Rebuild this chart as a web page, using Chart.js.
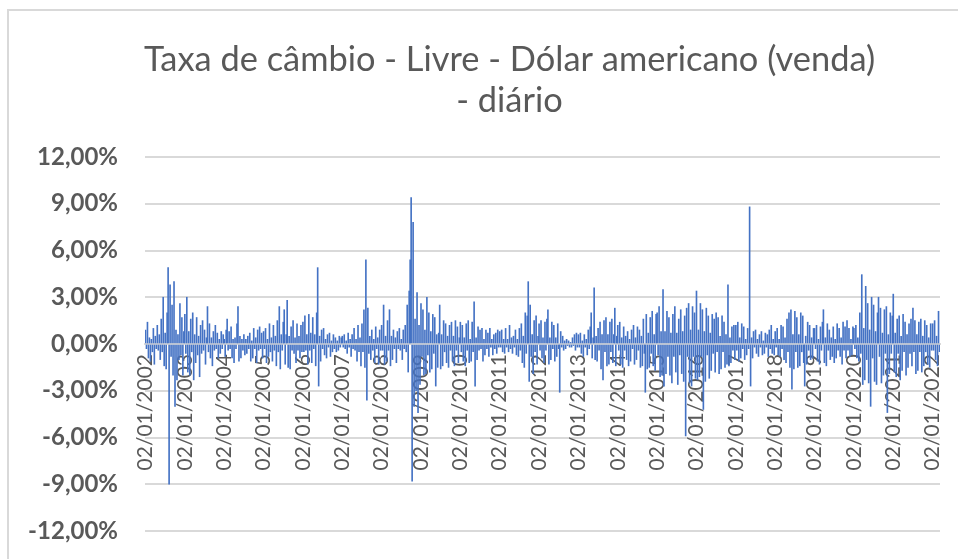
<!DOCTYPE html>
<html>
<head>
<meta charset="utf-8">
<script src="https://cdn.jsdelivr.net/npm/chart.js@4.4.1/dist/chart.umd.min.js"></script>
<style>
  html, body { margin: 0; padding: 0; background: #ffffff; overflow: hidden; width: 958px; height: 559px; }
  #frame { position: absolute; left: 7px; top: 9px; width: 1100px; height: 700px; border: 2px solid #D9D9D9; box-sizing: border-box; }
  #c { position: absolute; left: 0; top: 0; }
</style>
</head>
<body>
<div id="frame"></div>
<canvas id="c" width="1019" height="559"></canvas>
<script>
// Title
const titleLines = ['Taxa de câmbio - Livre - Dólar americano (venda)', '- diário'];

// Year tick labels (one per year start)
const tickLabels = ['02/01/2002','02/01/2003','02/01/2004','02/01/2005','02/01/2006','02/01/2007',
  '02/01/2008','02/01/2009','02/01/2010','02/01/2011','02/01/2012','02/01/2013','02/01/2014',
  '02/01/2015','02/01/2016','02/01/2017','02/01/2018','02/01/2019','02/01/2020','02/01/2021','02/01/2022'];

const v2002 = [0.9,-0.3,1.4,-0.9,0.4,-1.1,0.3,-0.5,1.0,-1.3, 0.5,-0.3,1.2,-0.4,0.6,-1.0,1.6,-0.5,3.0,-1.4, 0.7,-1.6,2.0,4.9,-9.0,3.8,-0.8,2.5,-2.0,4.0, -4.0,0.9,-2.3,0.6,-1.0,2.6,-0.7,1.7,-2.0,0.8];
const v2003 = [1.9,-0.6,3.0,-1.8,0.8,-2.0,1.6,-0.5,2.0,-2.3, 0.6,-1.2,1.7,-0.7,0.5,-2.1,1.2,-0.6,1.5,-0.4, 0.9,-1.3,0.4,2.4,-0.5,1.3,-0.9,0.4,-1.4,0.8, -0.4,1.2,-0.3,0.7,-0.9,0.3,-0.6,0.8,-0.3,0.6];
const v2004 = [0.3,-0.8,0.9,1.6,-0.4,0.8,-0.3,1.1,-0.9,0.3, -1.2,0.4,-0.3,1.3,2.4,-1.1,0.5,-0.9,0.3,-0.4, 0.6,-0.7,0.3,-0.6,0.5,-0.3,0.7,-1.1,0.2,-0.9, 1.0,-0.3,0.4,-1.2,0.9,-0.4,1.1,-0.3,0.7,-0.9];
const v2005 = [0.8,-0.3,1.0,-1.2,0.3,-0.8,1.3,-0.5,0.4,-1.1, 1.2,-0.4,0.5,-1.4,1.5,-0.5,2.4,-1.6,0.6,-0.4, 1.4,2.2,-1.3,0.6,2.8,-1.5,0.5,-1.6,1.1,-0.4, 1.5,-0.6,0.4,-1.2,1.3,-0.4,0.5,-0.9,1.2,-0.5];
const v2006 = [1.4,-0.5,1.8,-0.4,0.6,-1.3,1.9,-0.4,0.7,-1.2, 1.7,-0.3,0.6,-1.4,2.0,4.9,-2.7,0.5,-1.1,0.9, -0.3,1.0,-0.7,0.3,-0.9,0.6,-0.2,0.7,-0.8,0.2, -0.5,0.6,-0.3,0.4,-0.5,0.2,-0.4,0.5,-0.2,0.4];
const v2007 = [0.5,-0.2,0.6,-0.3,0.2,-0.6,0.7,-0.2,0.3,-0.8, 0.6,-0.3,1.0,-0.4,0.3,-1.1,1.2,-0.5,0.4,-1.4, 1.3,-0.5,2.2,-1.5,5.4,-3.6,2.3,-0.6,0.5,-1.0, 0.9,-0.4,0.3,-1.2,1.1,-0.3,0.4,-1.3,0.9,-0.4];
const v2008 = [1.2,-0.4,2.5,-1.3,0.5,-1.1,1.5,-0.4,2.2,-1.4, 0.5,-1.0,0.9,-0.3,0.4,-1.2,0.8,-0.3,1.0,-0.4, 0.3,-1.0,0.9,-0.3,1.2,-0.5,2.5,-1.8,3.4,5.4, 9.4,-8.8,7.8,-4.0,1.6,-3.0,3.3,-4.4,1.2,-2.6];
const v2009 = [2.6,-0.8,2.2,-2.0,0.9,-1.9,3.0,-0.7,2.0,-1.8, 0.8,-1.6,1.9,-0.6,1.7,-2.7,0.6,-1.5,0.7,2.5, -1.6,0.6,-1.4,1.5,-0.5,1.3,-1.2,0.5,-1.5,1.2, -0.4,1.4,-1.1,0.5,-1.4,1.5,-0.4,1.1,-1.2,0.4];
const v2010 = [1.4,-0.5,1.2,-1.1,0.4,-1.4,1.3,-0.4,1.5,-1.2, 0.3,-1.1,1.4,-0.5,2.7,-2.7,0.4,-1.0,1.1,-0.4, 0.9,-0.3,1.0,-1.1,0.3,-0.7,0.9,-0.3,0.7,-0.8, 1.0,-0.2,0.3,-0.7,0.6,-0.3,0.7,-0.6,0.9,-0.2];
const v2011 = [0.8,-0.2,0.9,-0.5,0.3,-0.6,1.0,-0.2,0.3,-0.5, 1.2,-0.3,0.4,-0.6,0.5,-0.2,0.9,-0.7,0.3,-0.8, 1.0,-0.4,1.3,-1.2,0.5,-1.5,2.0,-0.6,1.8,4.0, -2.4,2.5,-0.8,0.6,-1.9,1.5,-0.5,1.8,-1.3,0.5];
const v2012 = [1.3,-0.4,1.5,-0.9,0.4,-1.2,1.4,-0.4,1.6,2.2, -1.3,0.4,-1.0,1.4,-0.3,1.2,-1.1,0.4,-0.8,1.3, -0.3,-3.1,0.8,-0.2,0.5,-0.4,0.2,-0.3,0.3,-0.1, 0.2,-0.2,0.1,-0.2,0.4,-0.1,0.6,-0.4,0.7,-0.2];
const v2013 = [0.6,-0.2,0.7,-0.6,0.2,-0.8,0.6,-0.2,0.3,-0.7, 0.9,-0.3,1.1,2.0,-0.9,0.4,3.6,-1.0,0.5,-1.1, 1.0,-0.4,1.4,-1.6,0.6,-2.3,1.5,-0.5,1.7,-1.4, 0.6,-1.3,1.4,-0.5,1.6,-1.2,0.6,2.3,-1.4,0.5];
const v2014 = [1.2,-0.4,1.4,-1.3,0.4,-1.5,1.1,-0.4,0.5,-1.0, 0.8,-1.4,0.3,-1.1,0.9,-0.3,1.2,-1.3,0.4,-1.0, 1.1,-0.4,0.9,-1.5,0.5,-1.4,1.6,-0.6,-3.1,1.9, -1.6,0.7,-1.5,1.7,-0.6,2.1,-1.4,0.6,-1.7,1.9];
const v2015 = [2.0,-0.7,2.4,-2.1,0.8,-2.0,3.5,-2.7,0.8,-1.9, 2.1,-0.8,1.7,-2.0,0.7,-2.5,1.9,-0.8,2.4,-1.8, 0.7,-2.6,1.6,-0.7,2.2,-1.9,0.8,-2.4,1.8,-5.9, 2.3,-0.8,2.6,-2.5,0.9,-2.7,2.4,-0.8,2.0,-2.2];
const v2016 = [3.4,-2.3,0.9,-2.1,2.6,-0.8,2.2,-4.2,0.8,-2.4, 2.3,-0.7,1.8,-2.2,0.7,-1.7,1.9,-0.6,1.6,-1.8, 2.0,-0.5,1.7,-1.9,0.5,-1.6,1.8,-0.5,1.4,-1.5, 0.6,-1.3,3.8,-1.4,0.4,-1.2,1.1,-0.4,1.2,-1.0];
const v2017 = [1.2,-0.4,1.4,-1.1,0.4,-0.9,1.3,-0.3,1.1,-1.0, 0.3,-0.7,1.0,-0.3,8.8,-2.7,0.4,-0.9,0.8,-0.2, 0.9,-0.6,0.3,-0.8,0.6,-0.2,0.8,-0.7,0.2,-0.6, 0.7,-0.2,0.6,-0.8,0.9,-0.3,1.2,-0.6,0.3,-0.7];
const v2018 = [0.8,-0.2,1.0,-0.7,0.3,-0.8,1.2,-0.3,1.1,-1.0, 0.4,-1.2,1.6,-0.5,2.0,-1.5,2.2,-2.9,0.6,-1.6, 2.1,-0.5,1.7,-1.5,0.6,-1.4,2.0,-0.5,1.8,-1.2, -2.7,0.5,-1.3,1.4,-0.4,1.2,-1.0,0.4,-0.9,1.0];
const v2019 = [1.0,-0.3,1.2,-1.1,0.3,-1.3,1.1,-0.4,1.4,2.2, -1.2,0.4,-1.4,1.3,-0.4,0.9,-1.0,0.4,-0.8,1.1, -1.2,0.3,-0.9,1.3,-0.4,1.0,-0.8,0.4,-1.3,1.4, -0.4,1.1,-0.9,1.5,-0.4,1.0,-0.8,0.3,-0.7,1.1];
const v2020 = [1.0,-0.3,1.2,-0.9,0.4,-1.1,2.0,-0.6,4.45,-2.6, 1.0,-2.3,3.7,-1.0,2.6,-2.5,0.9,-4.0,3.0,-0.9, 2.5,-2.4,0.8,-2.6,2.0,3.0,-0.8,2.3,-2.5,0.7, -2.0,2.2,-0.6,2.4,-4.4,0.6,-1.9,2.0,-0.6,1.8];
const v2021 = [3.2,-1.8,0.7,-2.1,1.6,-0.6,1.8,-2.3,0.5,-1.7, 1.9,-0.5,1.4,-2.0,0.6,-1.5,1.3,-0.6,1.6,-1.4, 2.3,-0.5,1.5,-1.9,0.6,-1.7,1.4,-0.5,1.6,-1.8, 0.5,-1.4,1.5,-0.5,1.2,-1.3,0.4,-1.5,1.3,-0.4];
const v2022 = [1.3,-0.4,1.5,-1.0,0.5,-1.4,2.1,-0.5];

const yearSeries = [v2002,v2003,v2004,v2005,v2006,v2007,v2008,v2009,v2010,v2011,v2012,
  v2013,v2014,v2015,v2016,v2017,v2018,v2019,v2020,v2021,v2022];

// Y-axis ticks (%)
const yMin = -12, yMax = 12, yStep = 3;

// Build categories and values from the arrays above
const categories = [];
const values = [];
yearSeries.forEach((arr, k) => {
  arr.forEach((v, i) => {
    categories.push(i === 0 ? tickLabels[k] : '');
    values.push(v);
  });
});

const TEXT = '#595959';
const GRID = '#D9D9D9';

function noPad(s) { s.paddingLeft = 0; s.paddingRight = 0; s.paddingTop = 0; s.paddingBottom = 0; }

new Chart(document.getElementById('c'), {
  type: 'bar',
  data: {
    labels: categories,
    datasets: [{
      data: values,
      backgroundColor: '#4472C4',
      borderWidth: 0,
      barPercentage: 1,
      categoryPercentage: 1
    }]
  },
  options: {
    responsive: false,
    animation: false,
    events: [],
    layout: { padding: { left: 0, right: 0, top: 0, bottom: 28 } },
    plugins: {
      legend: { display: false },
      tooltip: { enabled: false },
      title: {
        display: true,
        text: titleLines,
        color: TEXT,
        font: { family: 'Lato', size: 34.4, weight: 'normal', lineHeight: '41px' },
        padding: { top: 39, bottom: 36 }
      }
    },
    scales: {
      x: {
        axis: 'x',
        position: { y: 0 },
        z: 1,
        grid: { display: false, drawTicks: false },
        border: { display: true, color: GRID, width: 2 },
        ticks: {
          autoSkip: false,
          minRotation: 90,
          maxRotation: 90,
          padding: 10,
          color: TEXT,
          font: { family: 'Lato', size: 21 }
        },
        afterFit: (s) => { s.height = 0; noPad(s); }
      },
      y: {
        min: yMin,
        max: yMax,
        ticks: {
          stepSize: yStep,
          padding: 27,
          color: TEXT,
          font: { family: 'Lato', size: 24, weight: 'bold' },
          callback: (v) => v.toFixed(2).replace('.', ',') + '%'
        },
        grid: { color: GRID, lineWidth: 2, drawTicks: false },
        border: { display: false },
        afterFit: (s) => { s.width = 145; noPad(s); }
      },
      yPad: {
        type: 'linear',
        position: 'right',
        display: true,
        min: yMin,
        max: yMax,
        grid: { display: false, drawTicks: false },
        border: { display: false },
        ticks: { display: false },
        afterFit: (s) => { s.width = 79; noPad(s); }
      }
    }
  }
});
</script>
</body>
</html>
